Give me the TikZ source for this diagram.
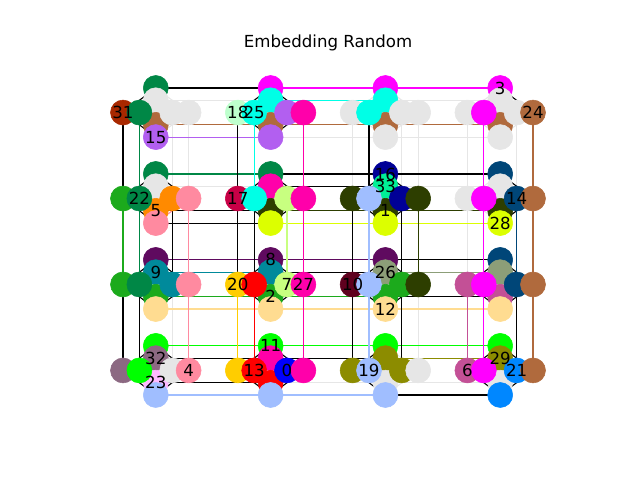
\documentclass[tikz,border=0pt]{standalone}
\usepackage{fontspec}
\setmainfont{DejaVu Sans}
\usetikzlibrary{positioning}
% chain colours
\definecolor{chainU}{RGB}{230,230,230}
\definecolor{chain0}{RGB}{0,0,255}
\definecolor{chain1}{RGB}{45,62,0}
\definecolor{chain2}{RGB}{28,170,28}
\definecolor{chain3}{RGB}{255,0,255}
\definecolor{chain4}{RGB}{255,138,160}
\definecolor{chain5}{RGB}{255,138,0}
\definecolor{chain6}{RGB}{195,80,150}
\definecolor{chain7}{RGB}{200,255,128}
\definecolor{chain8}{RGB}{95,10,95}
\definecolor{chain9}{RGB}{0,138,155}
\definecolor{chain10}{RGB}{95,0,30}
\definecolor{chain11}{RGB}{0,255,0}
\definecolor{chain12}{RGB}{255,220,145}
\definecolor{chain13}{RGB}{255,0,0}
\definecolor{chain14}{RGB}{0,70,120}
\definecolor{chain15}{RGB}{178,95,240}
\definecolor{chain16}{RGB}{0,0,150}
\definecolor{chain17}{RGB}{200,0,70}
\definecolor{chain18}{RGB}{190,255,205}
\definecolor{chain19}{RGB}{160,190,255}
\definecolor{chain20}{RGB}{255,205,0}
\definecolor{chain21}{RGB}{0,135,255}
\definecolor{chain22}{RGB}{0,135,70}
\definecolor{chain23}{RGB}{255,185,255}
\definecolor{chain24}{RGB}{176,106,61}
\definecolor{chain25}{RGB}{0,255,230}
\definecolor{chain26}{RGB}{140,158,120}
\definecolor{chain27}{RGB}{255,0,170}
\definecolor{chain28}{RGB}{220,255,0}
\definecolor{chain29}{RGB}{140,140,0}
\definecolor{chain31}{RGB}{168,40,0}
\definecolor{chain32}{RGB}{140,105,130}
\definecolor{chain33}{RGB}{0,240,150}
% colour of a coupler from the chains of its two qubits
\def\unusedid{U}
\newcommand\pickcol[2]{%
  \edef\chA{\csname chn@#1\endcsname}%
  \edef\chB{\csname chn@#2\endcsname}%
  \def\elayer{mid}%
  \ifx\chA\unusedid \def\ecol{chainU}\def\elayer{back}%
  \else\ifx\chB\unusedid \def\ecol{chainU}\def\elayer{back}%
  \else\ifx\chA\chB \edef\ecol{chain\chA}%
  \else \def\ecol{black}\fi\fi\fi}
% couplers that are not shown
\expandafter\def\csname skip@p-0-1-r3\endcsname{}
\expandafter\def\csname skip@p-2-1-r3\endcsname{}
\begin{document}
\begin{tikzpicture}[x=0.01in,y=-0.01in,
  qubit/.style={circle,fill=#1,draw=#1,line width=0.4pt,inner sep=0pt,minimum size=0.25in},
  link/.style={draw=#1,line width=0.8pt},
  lbl/.style={font=\fontsize{12}{14}\selectfont,inner sep=0pt}]
\useasboundingbox (0,0) rectangle (640,480);
\node[lbl] (title) at (328,43) {Embedding Random};
% qubit places and chains, tile by tile: c0 c1 c3 c4 / r0 r1 r3 r4
\foreach \i/\j/\cA/\cB/\cC/\cD/\rA/\rB/\rC/\rD in {
  0/0/22/U/24/15/31/22/U/U, 0/1/3/25/24/15/18/25/15/27,
  0/2/3/25/24/U/U/25/U/U, 0/3/3/U/24/U/U/3/U/24,
  1/0/22/U/5/4/2/22/5/4, 1/1/22/27/1/28/17/25/7/27,
  1/2/16/33/1/28/1/19/16/1, 1/3/14/U/1/28/U/3/14/24,
  2/0/8/9/2/12/2/22/9/4, 2/1/8/9/2/12/20/13/7/27,
  2/2/8/26/2/12/10/19/2/1, 2/3/14/26/6/12/6/3/14/24,
  3/0/11/32/23/19/32/11/U/4, 3/1/11/27/13/19/20/13/0/27,
  3/2/11/29/U/19/29/19/29/U, 3/3/11/29/U/21/6/3/21/24}{
  \foreach \p/\ch in {0/\cA,1/\cB,3/\cC,4/\cD}{
    \coordinate (p-\i-\j-c\p) at ({123+16.4*(7*\j+2)},{88+12.28*(7*\i+\p)});
    \expandafter\xdef\csname chn@p-\i-\j-c\p\endcsname{\ch}}
  \foreach \p/\ch in {0/\rA,1/\rB,3/\rC,4/\rD}{
    \coordinate (p-\i-\j-r\p) at ({123+16.4*(7*\j+\p)},{88+12.28*(7*\i+2)});
    \expandafter\xdef\csname chn@p-\i-\j-r\p\endcsname{\ch}}
}
% couplers: unused ones first, then chains and interactions
\foreach \ps in {back,mid}{
  \edef\curpass{\ps}
  % inside a tile
  \foreach \i in {0,...,3}{\foreach \j in {0,...,3}{
    \foreach \p in {0,1,3,4}{\foreach \q in {0,1,3,4}{
      \pickcol{p-\i-\j-c\p}{p-\i-\j-r\q}
      \ifx\elayer\curpass
        \draw[link=\ecol] (p-\i-\j-c\p) -- (p-\i-\j-r\q);
      \fi}}}}
  % between tiles
  \foreach \i in {0,...,3}{\foreach \j/\k in {0/1,1/2,2/3}{\foreach \p in {0,1,3,4}{
    \pickcol{p-\i-\j-c\p}{p-\i-\k-c\p}
    \ifx\elayer\curpass
      \draw[link=\ecol] (p-\i-\j-c\p) -- (p-\i-\k-c\p);
    \fi}}}
  \foreach \i/\k in {0/1,1/2,2/3}{\foreach \j in {0,...,3}{\foreach \p in {0,1,3,4}{
    \pickcol{p-\i-\j-r\p}{p-\k-\j-r\p}
    \ifcsname skip@p-\i-\j-r\p\endcsname\else
    \ifx\elayer\curpass
      \draw[link=\ecol] (p-\i-\j-r\p) -- (p-\k-\j-r\p);
    \fi\fi}}}
}
% qubits
\foreach \i in {0,...,3}{\foreach \j in {0,...,3}{
  \foreach \s in {c,r}{\foreach \p in {0,1,3,4}{
    \edef\qc{chain\csname chn@p-\i-\j-\s\p\endcsname}
    \node[qubit=\qc] (n-\i-\j-\s\p) at (p-\i-\j-\s\p) {};}}}}
% chain labels
\foreach \lab/\q in {0/n-3-1-r3, 1/n-1-2-c3, 2/n-2-1-c3, 3/n-0-3-c0, 4/n-3-0-r4,
  5/n-1-0-c3, 6/n-3-3-r0, 7/n-2-1-r3, 8/n-2-1-c0, 9/n-2-0-c1, 10/n-2-2-r0,
  11/n-3-1-c0, 12/n-2-2-c4, 13/n-3-1-r1, 14/n-1-3-r3, 15/n-0-0-c4, 16/n-1-2-c0,
  17/n-1-1-r0, 18/n-0-1-r0, 19/n-3-2-r1, 20/n-2-1-r0, 21/n-3-3-r3, 22/n-1-0-r1,
  23/n-3-0-c3, 24/n-0-3-r4, 25/n-0-1-r1, 26/n-2-2-c1, 27/n-2-1-r4, 28/n-1-3-c4,
  29/n-3-3-c1, 31/n-0-0-r0, 32/n-3-0-c1, 33/n-1-2-c1}
  \node[lbl] at (\q) {\lab};
\end{tikzpicture}
\end{document}
